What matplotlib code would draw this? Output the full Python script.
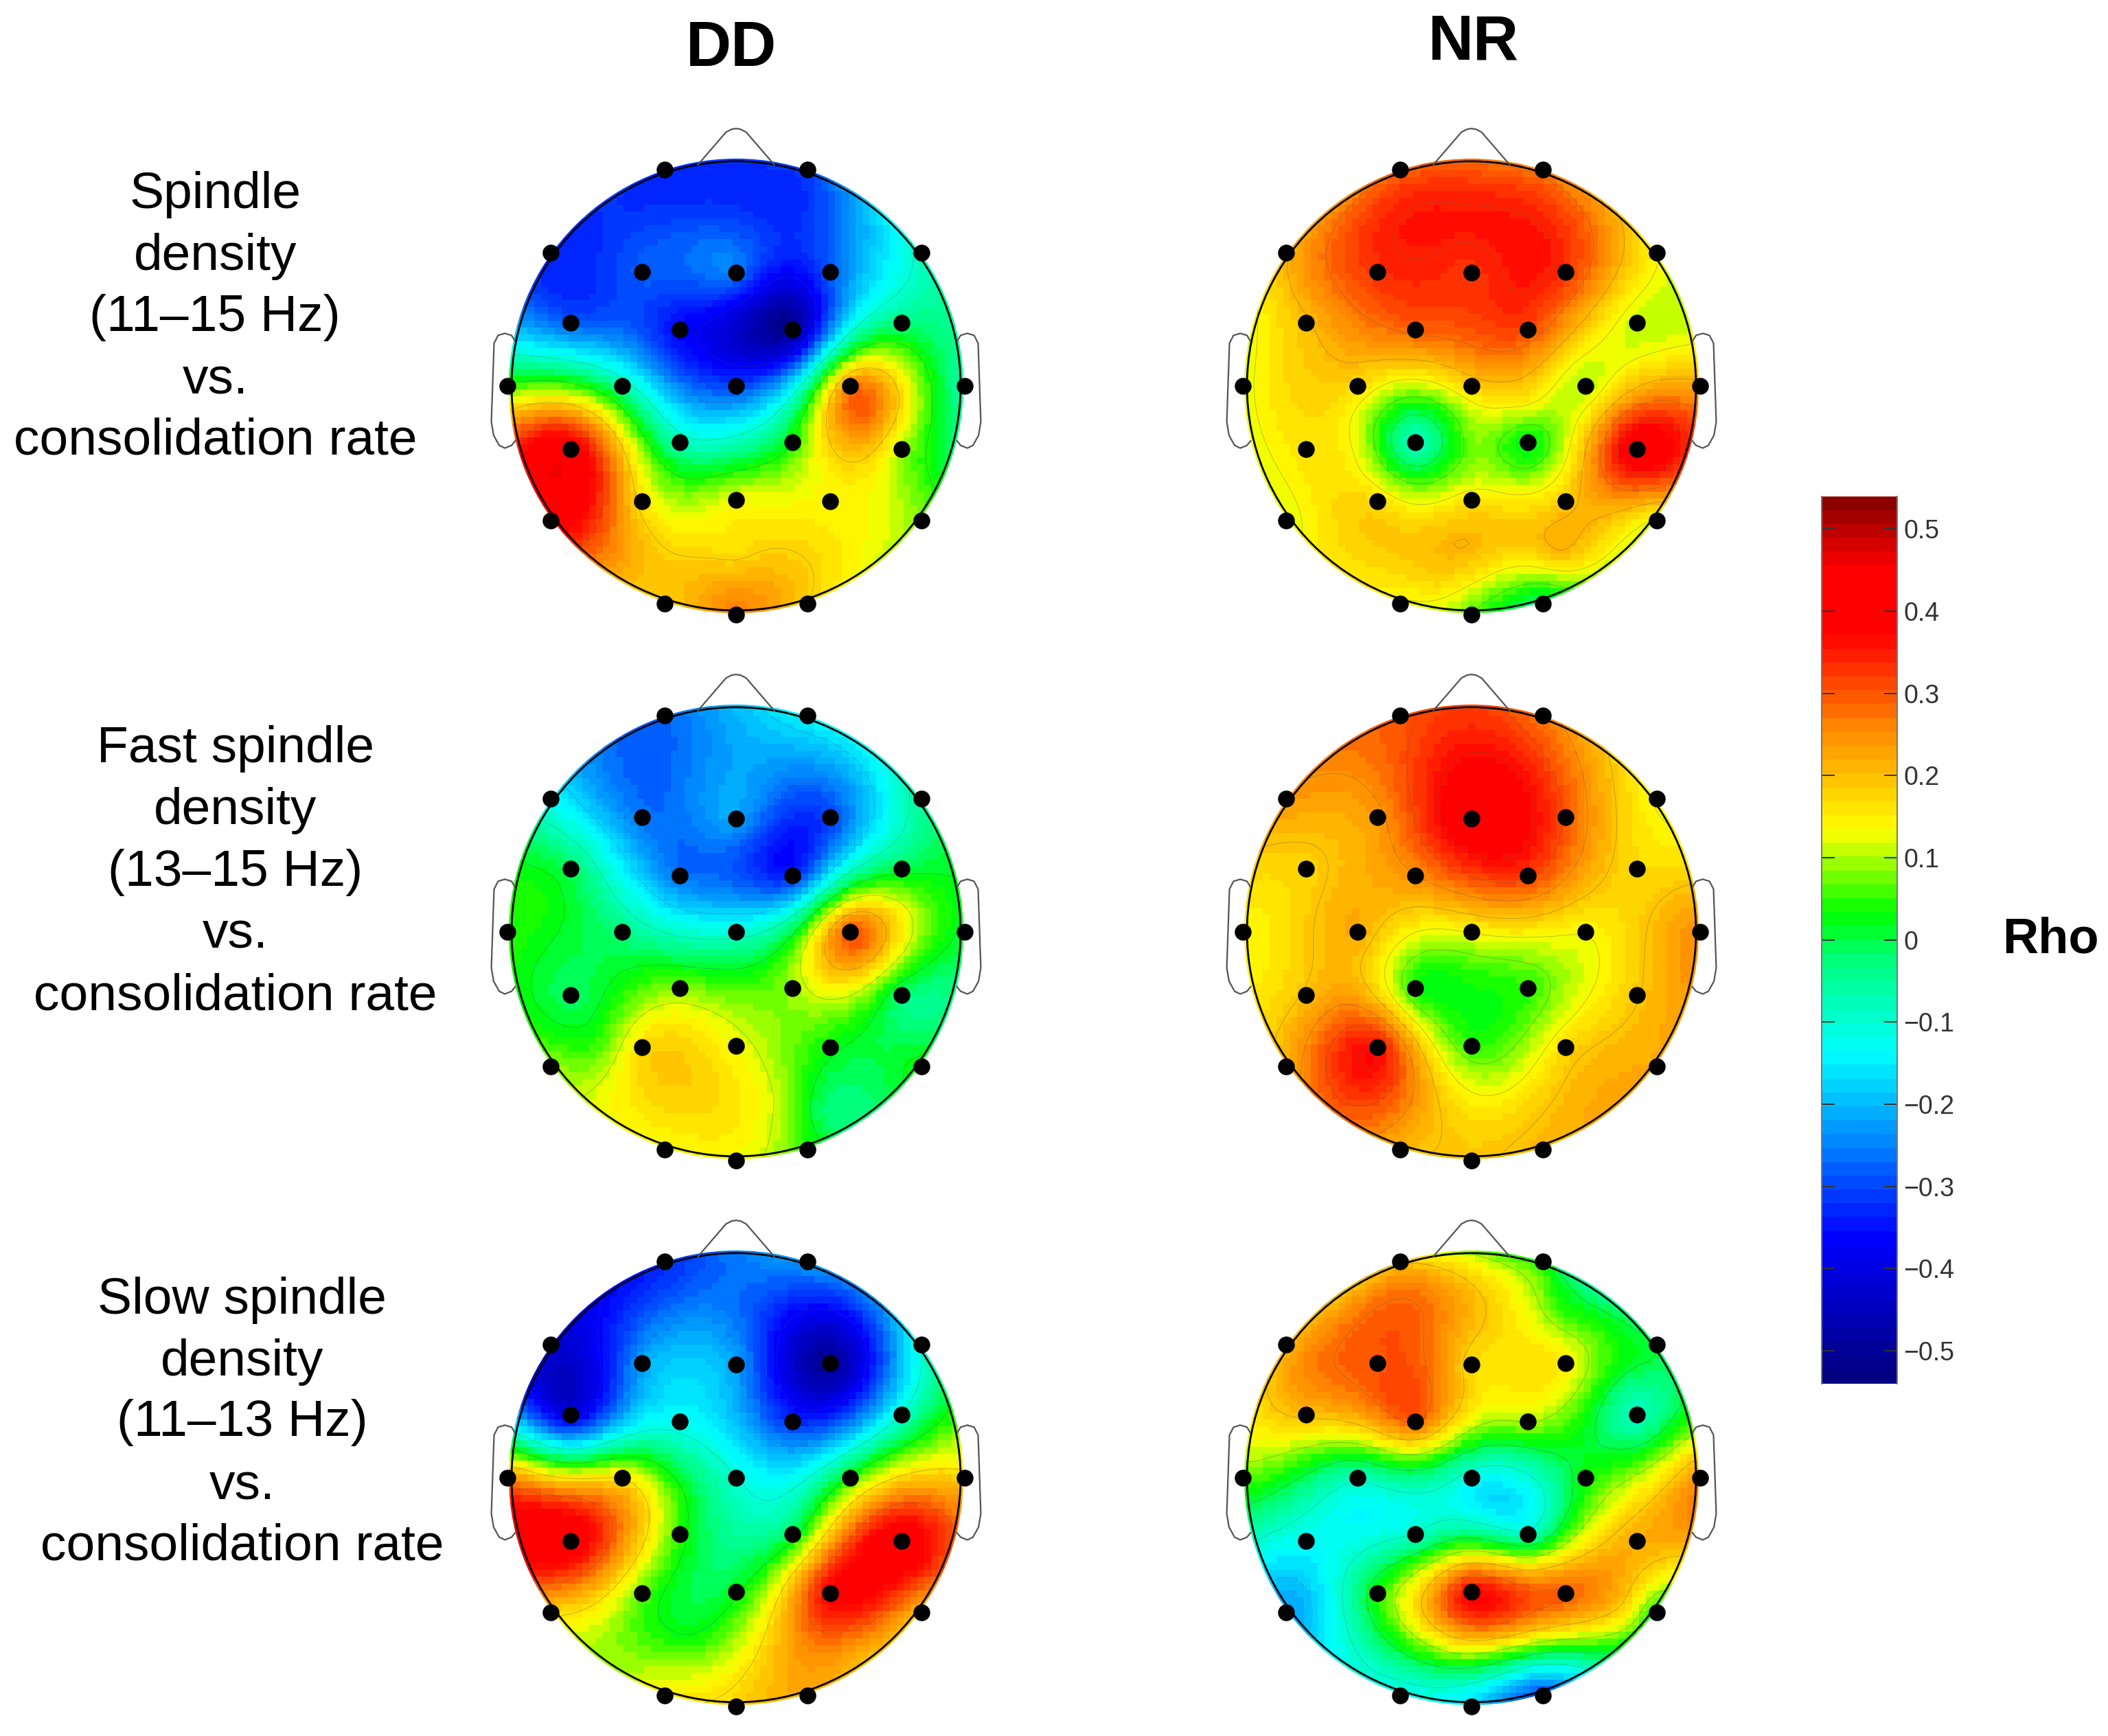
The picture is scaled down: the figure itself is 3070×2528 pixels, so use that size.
import numpy as np
import matplotlib
matplotlib.use('Agg')
import matplotlib.pyplot as plt
from matplotlib.colors import LinearSegmentedColormap, ListedColormap, Normalize
from matplotlib.patches import Circle

plt.rcParams['font.family'] = ['Liberation Sans', 'DejaVu Sans']

W, H = 3070, 2528
S = 1.958  # reference preview to full size

electrodes = ['Fp1','Fp2','F7','F8','F3','Fz','F4','FC5','FC1','FC2','FC6','T3','C3','Cz','C4','T4',
              'CP5','CP1','CP2','CP6','T5','P3','Pz','P4','T6','O1','Oz','O2']
elec_x = [-.317,.317,-.826,.826,-.419,0,.419,-.737,-.251,.251,.737,-1.018,-.509,0,.509,1.018,
          -.737,-.251,.251,.737,-.826,-.419,0,.419,.826,-.317,0,.317]
elec_y = [.964,.964,.593,.593,.509,.503,.509,.281,.251,.251,.281,0,0,0,0,0,
          -.281,-.251,-.251,-.281,-.6,-.515,-.509,-.515,-.6,-.97,-1.018,-.97]

dd_spindle = [-.33,-.30,-.33,-.08,-.28,-.26,-.28,-.28,-.36,-.5,-.03,.05,-.06,-.3,.26,-.06,
              .42,-.07,.04,.1,.4,.16,.13,.14,.08,.18,.26,.18]
dd_fast = [-.27,-.14,-.13,-.05,-.26,-.22,-.30,-.01,-.26,-.33,0,.05,-.03,-.10,.3,.01,
           -.01,.08,.09,-.02,.09,.17,.13,.03,.03,.13,.13,.05]
dd_slow = [-.33,-.22,-.42,-.1,-.22,-.22,-.5,-.4,-.13,-.32,-.1,.25,.16,-.1,.04,.18,
           .42,.05,0,.42,.18,.07,.02,.38,.2,.15,.18,.22]
nr_spindle = [.28,.26,.2,.14,.33,.33,.33,.2,.29,.31,.11,.12,.17,.18,.1,.22,
              .16,-.08,.02,.42,.12,.17,.16,.19,.13,.13,.06,-.02]
nr_fast = [.3,.27,.24,.13,.24,.42,.3,.18,.25,.32,.17,.14,.22,.14,.14,.25,
           .2,.04,.05,.19,.22,.36,.05,.17,.22,.21,.19,.21]
nr_slow = [.18,.02,.2,.0,.3,.17,.15,.2,.29,.1,-.08,.07,-.08,-.12,.03,.25,
           -.13,-.09,-.08,.22,-.22,.04,.37,.29,.03,-.12,-.18,-.3]

# Extra anchor values: x, y, rho
dd_spindle_x = [0.0, .55, .0]
dd_spindle_y = [-.75, -.13, .72]
dd_spindle_v = [.17, .29, -.3]
nr_spindle_x = [0.0, -.15, 0.0, .4, .25, -.5]
nr_spindle_y = [-.75, -.88, -.25, -.75, -.08, -.28]
nr_spindle_v = [.2, .17, .08, .2, .14, .12]
dd_fast_x = [.4, .2, -.55, -.62]
dd_fast_y = [-.8, -.75, .65, -.5]
dd_fast_v = [-.02, .1, -.25, .05]
nr_fast_x = [0.0]
nr_fast_y = [-.3]
nr_fast_v = [.03]
dd_slow_x = [-.2, .5]
dd_slow_y = [-.7, -.75]
dd_slow_v = [.03, .25]
nr_slow_x = [.4, .1, .2, .7]
nr_slow_y = [.75, -.07, -.55, -.6]
nr_slow_v = [.05, -.17, .33, .15]

panels = [dd_spindle, nr_spindle, dd_fast, nr_fast, dd_slow, nr_slow]
extras = [(dd_spindle_x,dd_spindle_y,dd_spindle_v),(nr_spindle_x,nr_spindle_y,nr_spindle_v),
          (dd_fast_x,dd_fast_y,dd_fast_v),(nr_fast_x,nr_fast_y,nr_fast_v),
          (dd_slow_x,dd_slow_y,dd_slow_v),(nr_slow_x,nr_slow_y,nr_slow_v)]
centres_x = [547.5, 1094.5]
centres_y = [287, 693, 1099]
radius = 167

row_labels = [['Spindle','density','(11\u201315 Hz)','vs.','consolidation rate'],
              ['Fast spindle','density','(13\u201315 Hz)','vs.','consolidation rate'],
              ['Slow spindle','density','(11\u201313 Hz)','vs.','consolidation rate']]
label_x = [160, 175, 180]
label_y = [[145,191,236,283,328],[557,603,649,695,741],[967,1013,1058,1105,1150]]
cbar_ticks = [-.5,-.4,-.3,-.2,-.1,0,.1,.2,.3,.4,.5]
cbar_ticklabels = ['\u22120.5','\u22120.4','\u22120.3','\u22120.2','\u22120.1','0','0.1','0.2','0.3','0.4','0.5']

vmin, vmax = -.54, .54
stops = [(-.54,(0,0,.5)),(-.37,(0,0,1)),(-.14,(0,1,1)),(-.03,(0,1,.5)),(.035,(0,1,0)),(.135,(1,1,0)),
         (.27,(1,.5,0)),(.38,(1,0,0)),(.46,(1,0,0)),(.54,(.55,0,0))]
base = LinearSegmentedColormap.from_list('rho',[((v-vmin)/(vmax-vmin),c) for v,c in stops])
cmap = ListedColormap(base(np.linspace(0,1,64)))
norm = Normalize(vmin,vmax)


def biharmonic(xs, ys, vs, gx, gy):
    pts = np.column_stack([xs, ys])
    d = np.linalg.norm(pts[:,None]-pts[None],axis=2)
    def g(r):
        out = np.zeros_like(r)
        m = r > 0
        out[m] = r[m]**2*(np.log(r[m])-1)
        return out
    w = np.linalg.solve(g(d), np.asarray(vs))
    q = np.column_stack([gx.ravel(), gy.ravel()])
    return (g(np.linalg.norm(q[:,None]-pts[None],axis=2))@w).reshape(gx.shape)


fig = plt.figure(figsize=(W/100,H/100),dpi=100,facecolor='white')

box = 1.2
grid_e = np.linspace(-1.02,1.02,68)
grid_c = (grid_e[:-1]+grid_e[1:])/2
gx, gy = np.meshgrid(grid_c,grid_c)

nose_x = [-.17,-.045,-.02,0,.02,.045,.17]
nose_y = [.985,1.13,1.143,1.146,1.143,1.13,.985]
ear_x = np.array([.985,1.0,1.03,1.06,1.078,1.09,1.08,1.055,1.03,1.0,.984])
ear_y = np.array([.2,.225,.234,.225,.19,-.16,-.22,-.265,-.277,-.265,-.245])

for i,vals in enumerate(panels):
    r,c = i//2, i%2
    cx,cy = centres_x[c]*S, centres_y[r]*S
    R = radius*S
    ax = fig.add_axes([(cx-box*R)/W,1-(cy+box*R)/H,2*box*R/W,2*box*R/H])
    ax.set_xlim(-box,box); ax.set_ylim(-box,box); ax.axis('off')
    ex,ey,ev = extras[i]
    z = biharmonic(list(elec_x)+list(ex),list(elec_y)+list(ey),list(vals)+list(ev),gx,gy)
    clip = Circle((0,0),1.012,transform=ax.transData)
    m = ax.pcolormesh(grid_e,grid_e,z,cmap=cmap,norm=norm,shading='flat',rasterized=True)
    m.set_clip_path(clip)
    inside = np.hypot(gx,gy)<=1.01
    lv = np.linspace(z[inside].min(),z[inside].max(),8)[1:-1]
    cs = ax.contour(gx,gy,z,levels=lv,colors='#555555',linewidths=.7,alpha=.35)
    cs.set_clip_path(clip)
    ax.add_patch(Circle((0,0),1.0,fill=False,ec='black',lw=2.0))
    ax.plot(nose_x,nose_y,color='#555555',lw=1.6)
    ax.plot(ear_x,ear_y,color='#555555',lw=1.6)
    ax.plot(-ear_x,ear_y,color='#555555',lw=1.6)
    ax.scatter(elec_x,elec_y,s=310,c='black',zorder=5,clip_on=False,linewidths=0)

for lines,x,ys in zip(row_labels,label_x,label_y):
    for t,y in zip(lines,ys):
        fig.text(x*S/W,1-y*S/H,t,ha='center',va='center',fontsize=54,color='black')
fig.text(544*S/W,1-37*S/H,'DD',ha='center',va='center',fontsize=66,fontweight='bold')
fig.text(1096*S/W,1-32*S/H,'NR',ha='center',va='center',fontsize=66,fontweight='bold')
fig.text(1525*S/W,1-699*S/H,'Rho',ha='center',va='center',fontsize=52,fontweight='bold')

cax = fig.add_axes([1355*S/W,1-1029*S/H,56*S/W,660*S/H])
edges = np.linspace(vmin,vmax,65)
cax.pcolormesh([0,1],edges,((edges[:-1]+edges[1:])/2)[:,None],cmap=cmap,norm=norm)
cax.set_xticks([])
cax.set_ylim(vmin,vmax)
cax.set_yticks(cbar_ticks)
cax.set_yticklabels(cbar_ticklabels,fontsize=27,color='#333333')
cax.tick_params(axis='y',direction='in',length=14,width=1.4,color='#333333',left=True,right=True,labelleft=False,labelright=True,pad=7)
for k,s in cax.spines.items():
    s.set_color('#777777'); s.set_linewidth(1.4)
cax.spines['top'].set_visible(False); cax.spines['bottom'].set_visible(False)

fig.savefig('out.png',dpi=100)
